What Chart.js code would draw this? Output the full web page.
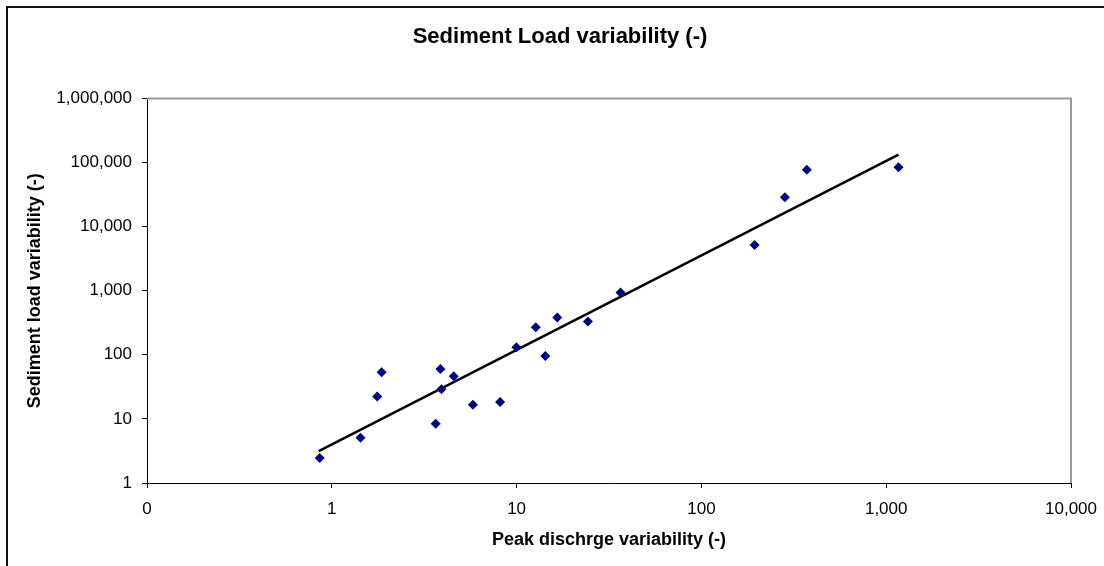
<!DOCTYPE html>
<html>
<head>
<meta charset="utf-8">
<title>Sediment Load variability</title>
<script src="https://cdn.jsdelivr.net/npm/chart.js@4.4.1/dist/chart.umd.min.js"></script>
<style>
  html, body { margin: 0; padding: 0; background: #fff; overflow: hidden; }
  #frame {
    position: absolute; left: 6px; top: 6px;
    width: 1200px; height: 700px;
    border: 2px solid #111;
  }
  #chart { position: absolute; left: 0; top: 0; }
</style>
</head>
<body>
<div id="frame"></div>
<canvas id="chart" width="1104" height="566"></canvas>
<script>
// ---- Data ----
const peakDischarge = [0.86, 1.43, 1.76, 1.86, 3.65, 3.87, 3.92, 4.57, 5.8, 8.14,
                       9.98, 12.7, 14.3, 16.6, 24.3, 36.5, 194, 283, 372, 1166];
const sedimentLoad  = [2.45, 5.08, 22.4, 53.6, 8.4, 60, 29.1, 46.4, 16.6, 18.3,
                       131, 269, 96, 381, 330, 934, 5150, 28800, 76900, 84500];

// power trendline, end points as drawn
const trendX = [0.85, 1166];
const trendY = [3.15, 133000];

const xTickValues = [0.1, 1, 10, 100, 1000, 10000];
const xTickLabels = ["0", "1", "10", "100", "1,000", "10,000"];
const yTickValues = [1, 10, 100, 1000, 10000, 100000, 1000000];
const yTickLabels = ["1", "10", "100", "1,000", "10,000", "100,000", "1,000,000"];

const FONT = "'Liberation Sans', Arial, sans-serif";

// grey frame on top / right of the plot area (Excel style)
const plotFrame = {
  id: "plotFrame",
  beforeDatasetsDraw(chart) {
    const { ctx, chartArea: a } = chart;
    ctx.save();
    ctx.strokeStyle = "#9a9a9a";
    ctx.lineWidth = 2;
    ctx.beginPath();
    ctx.moveTo(a.left, a.top);
    ctx.lineTo(a.right, a.top);
    ctx.lineTo(a.right, a.bottom);
    ctx.stroke();
    ctx.restore();
  }
};

const points = peakDischarge.map((x, i) => ({ x, y: sedimentLoad[i] }));
const trend  = trendX.map((x, i) => ({ x, y: trendY[i] }));

new Chart(document.getElementById("chart"), {
  type: "scatter",
  data: {
    datasets: [
      {
        data: points,
        order: 0,
        pointStyle: "rectRot",
        pointRadius: 5,
        pointBackgroundColor: "#000080",
        pointBorderColor: "#000080",
        pointBorderWidth: 0
      },
      {
        type: "line",
        data: trend,
        order: 1,
        borderColor: "#000",
        borderWidth: 2.5,
        pointRadius: 0,
        fill: false
      }
    ]
  },
  options: {
    responsive: false,
    animation: false,
    devicePixelRatio: 1,
    layout: { padding: { left: 16, right: 0, top: 0, bottom: 0 } },
    plugins: {
      legend: { display: false },
      tooltip: { enabled: false },
      title: {
        display: true,
        text: "Sediment Load variability (-)",
        color: "#000",
        font: { family: FONT, size: 22, weight: "bold" },
        padding: { top: 24, bottom: 48 }
      }
    },
    scales: {
      x: {
        type: "logarithmic",
        min: 0.1,
        max: 10000,
        afterBuildTicks: s => { s.ticks = xTickValues.map(v => ({ value: v })); },
        afterFit: s => {
          s.height = 83;
          // the last label may hang into the right margin
          s.paddingLeft = 0;
          s.paddingRight = 0;
        },
        ticks: {
          color: "#000",
          font: { family: FONT, size: 17 },
          padding: 11,
          maxRotation: 0,
          autoSkip: false,
          callback: (v, i) => xTickLabels[i]
        },
        grid: { drawOnChartArea: false, tickLength: 5, color: "#000" },
        border: { color: "#000", width: 1 },
        title: {
          display: true,
          text: "Peak dischrge variability (-)",
          color: "#000",
          font: { family: FONT, size: 18, weight: "bold" },
          padding: { top: 0, bottom: 15 }
        }
      },
      y: {
        type: "logarithmic",
        min: 1,
        max: 1000000,
        afterBuildTicks: s => { s.ticks = yTickValues.map(v => ({ value: v })); },
        afterFit: s => { s.width = 131; },
        ticks: {
          color: "#000",
          font: { family: FONT, size: 17 },
          padding: 10,
          autoSkip: false,
          callback: (v, i) => yTickLabels[i]
        },
        grid: { drawOnChartArea: false, tickLength: 5, color: "#000" },
        border: { color: "#000", width: 1 },
        title: {
          display: true,
          text: "Sediment load variability (-)",
          color: "#000",
          font: { family: FONT, size: 18, weight: "bold" },
          padding: { top: 8, bottom: 0 }
        }
      },
      // empty right strip so the plot ends where the reference does
      pad: {
        type: "linear",
        position: "right",
        grid: { display: false },
        ticks: { display: false },
        border: { display: false },
        afterFit: s => { s.width = 33; }
      }
    }
  },
  plugins: [plotFrame]
});
</script>
</body>
</html>
